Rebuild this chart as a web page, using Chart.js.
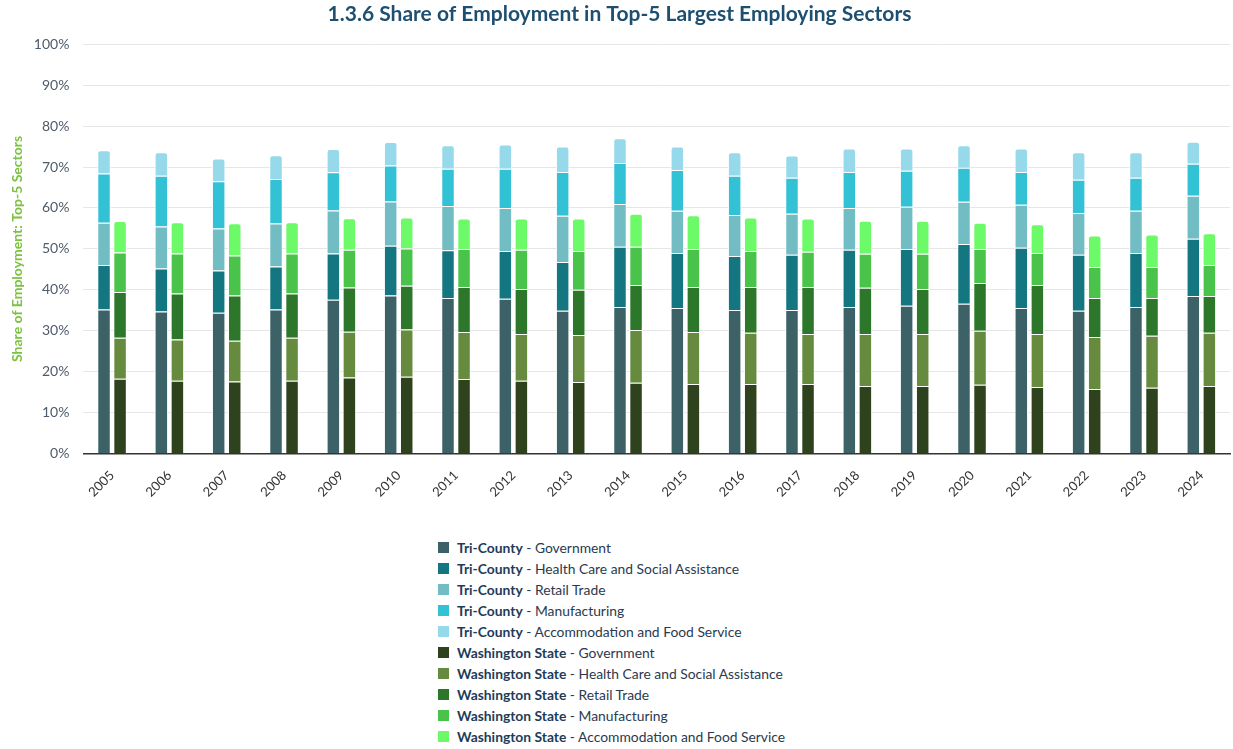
<!DOCTYPE html>
<html lang="en">
<head>
  <meta charset="UTF-8">
  <title>1.3.6 Share of Employment in Top-5 Largest Employing Sectors</title>
  <style>
    body {
      margin: 0;
      padding: 0;
      background: #fff;
      font-family: Lato, sans-serif;
    }

    .chart-container {
      position: relative;
      width: 1233px;
      height: 506px;
    }

    #legend {
      list-style: none;
      margin: 31px 0 0 0;
      padding: 0 0 0 438px;
      font-size: 13.85px;
      color: #2b3a4e;
    }

    #legend li {
      height: 21px;
      line-height: 21px;
      display: flex;
      align-items: center;
    }

    #legend .box {
      width: 11px;
      height: 11px;
      margin-right: 8px;
    }

    #legend b {
      color: #1d3c5a;
    }
  </style>
  <script src="https://cdn.jsdelivr.net/npm/chart.js"></script>
</head>
<body>
  <div class="chart-container">
    <canvas id="chart"></canvas>
  </div>
  <ul id="legend"></ul>

  <script>
    const years = ['2005', '2006', '2007', '2008', '2009', '2010', '2011', '2012', '2013', '2014',
                   '2015', '2016', '2017', '2018', '2019', '2020', '2021', '2022', '2023', '2024'];

    const sectors = ['Government', 'Health Care and Social Assistance', 'Retail Trade',
                     'Manufacturing', 'Accommodation and Food Service'];

    // Tri-County, share of employment (%) per sector
    const triGovernment = [35.2, 34.7, 34.4, 35.2, 37.6, 38.6, 38.0, 37.8, 34.9, 35.8, 35.6, 35.1, 35.1, 35.8, 36.1, 36.6, 35.6, 34.9, 35.8, 38.5];
    const triHealth     = [10.9, 10.5, 10.3, 10.5, 11.3, 12.2, 11.7, 11.7, 11.9, 14.7, 13.4, 13.2, 13.5, 14.0, 13.9, 14.6, 14.7, 13.7, 13.2, 14.0];
    const triRetail     = [10.3, 10.3, 10.3, 10.5, 10.5, 10.8, 10.8, 10.5, 11.3, 10.5, 10.3, 10.0, 10.0, 10.2, 10.3, 10.3, 10.5, 10.2, 10.3, 10.5];
    const triManuf      = [12.0, 12.4, 11.5, 10.9, 9.3, 8.8, 9.1, 9.6, 10.7, 10.0, 10.0, 9.6, 8.8, 8.8, 8.8, 8.3, 8.0, 8.1, 8.1, 7.8];
    const triAccom      = [5.7, 5.7, 5.6, 5.8, 5.7, 5.7, 5.7, 5.9, 6.2, 6.0, 5.7, 5.7, 5.4, 5.7, 5.4, 5.5, 5.7, 6.7, 6.2, 5.4];

    // Washington State, share of employment (%) per sector
    const waGovernment = [18.3, 17.8, 17.6, 17.8, 18.6, 18.8, 18.2, 17.8, 17.5, 17.3, 17.0, 17.0, 17.0, 16.5, 16.5, 16.8, 16.3, 15.8, 16.1, 16.5];
    const waHealth     = [10.0, 10.1, 10.0, 10.5, 11.2, 11.5, 11.5, 11.4, 11.5, 12.9, 12.7, 12.5, 12.2, 12.7, 12.7, 13.2, 12.9, 12.7, 12.7, 13.0];
    const waRetail     = [11.2, 11.2, 11.0, 10.8, 10.8, 10.7, 11.0, 11.0, 11.0, 11.0, 11.0, 11.2, 11.5, 11.3, 11.0, 11.7, 12.0, 9.5, 9.2, 9.0];
    const waManuf      = [9.6, 9.8, 9.8, 9.8, 9.2, 9.1, 9.3, 9.6, 9.5, 9.3, 9.3, 8.8, 8.6, 8.3, 8.6, 8.3, 7.8, 7.6, 7.6, 7.6];
    const waAccom      = [7.7, 7.6, 7.9, 7.6, 7.7, 7.6, 7.4, 7.6, 7.9, 8.1, 8.2, 8.2, 8.1, 8.1, 8.1, 6.4, 7.0, 7.7, 7.9, 7.7];

    const yTicks = [0, 10, 20, 30, 40, 50, 60, 70, 80, 90, 100];

    const triColors = ['#3c6268', '#147681', '#72bcc4', '#33c1d6', '#96d9eb'];
    const waColors  = ['#2e421e', '#668b3f', '#2c772a', '#4ac34a', '#6cfa68'];

    const regions = [
      { name: 'Tri-County', stack: 'tri', values: [triGovernment, triHealth, triRetail, triManuf, triAccom], colors: triColors },
      { name: 'Washington State', stack: 'wa', values: [waGovernment, waHealth, waRetail, waManuf, waAccom], colors: waColors },
    ];

    const datasets = [];
    regions.forEach(r => {
      sectors.forEach((s, i) => {
        datasets.push({
          label: r.name + ' - ' + s,
          region: r.name,
          sector: s,
          data: r.values[i],
          stack: r.stack,
          backgroundColor: r.colors[i],
          borderColor: '#ffffff',
          borderWidth: 1,
          borderRadius: 3,
          categoryPercentage: 0.56,
          barPercentage: 0.84,
        });
      });
    });

    Chart.defaults.font.family = 'Lato, sans-serif';

    const ctx = document.getElementById('chart').getContext('2d');
    const chart = new Chart(ctx, {
      type: 'bar',
      data: { labels: years, datasets: datasets },
      options: {
        responsive: true,
        maintainAspectRatio: false,
        animation: false,
        layout: { padding: { left: 9, right: 3, top: 0, bottom: 0 } },
        plugins: {
          legend: { display: false },
          tooltip: { enabled: false },
          title: {
            display: true,
            text: '1.3.6 Share of Employment in Top-5 Largest Employing Sectors',
            color: '#1f4f70',
            font: { size: 21, weight: 'bold' },
            padding: { top: 2, bottom: 17 },
          },
        },
        scales: {
          x: {
            stacked: true,
            grid: { display: false },
            border: { color: '#333333', width: 1.5 },
            ticks: {
              color: '#333333',
              font: { size: 13 },
              maxRotation: 45,
              minRotation: 45,
              padding: 6,
            },
          },
          y: {
            stacked: true,
            min: 0,
            max: 100,
            afterBuildTicks: axis => { axis.ticks = yTicks.map(v => ({ value: v })); },
            grid: { color: '#e6e6e6', drawTicks: false },
            border: { display: false },
            ticks: {
              color: '#4f5b6b',
              font: { size: 14 },
              padding: 14,
              callback: v => v + '%',
            },
            title: {
              display: true,
              text: 'Share of Employment: Top-5 Sectors',
              color: '#7cc242',
              font: { size: 14, weight: 'bold' },
              padding: { top: 0, bottom: -6 },
            },
          },
        },
      },
    });

    // legend: one entry per line, region name in bold
    const legend = document.getElementById('legend');
    chart.data.datasets.forEach(ds => {
      const li = document.createElement('li');
      li.innerHTML = '<span class="box" style="background:' + ds.backgroundColor + '"></span>' +
                     '<span><b>' + ds.region + '</b> - ' + ds.sector + '</span>';
      legend.appendChild(li);
    });
  </script>
</body>
</html>
